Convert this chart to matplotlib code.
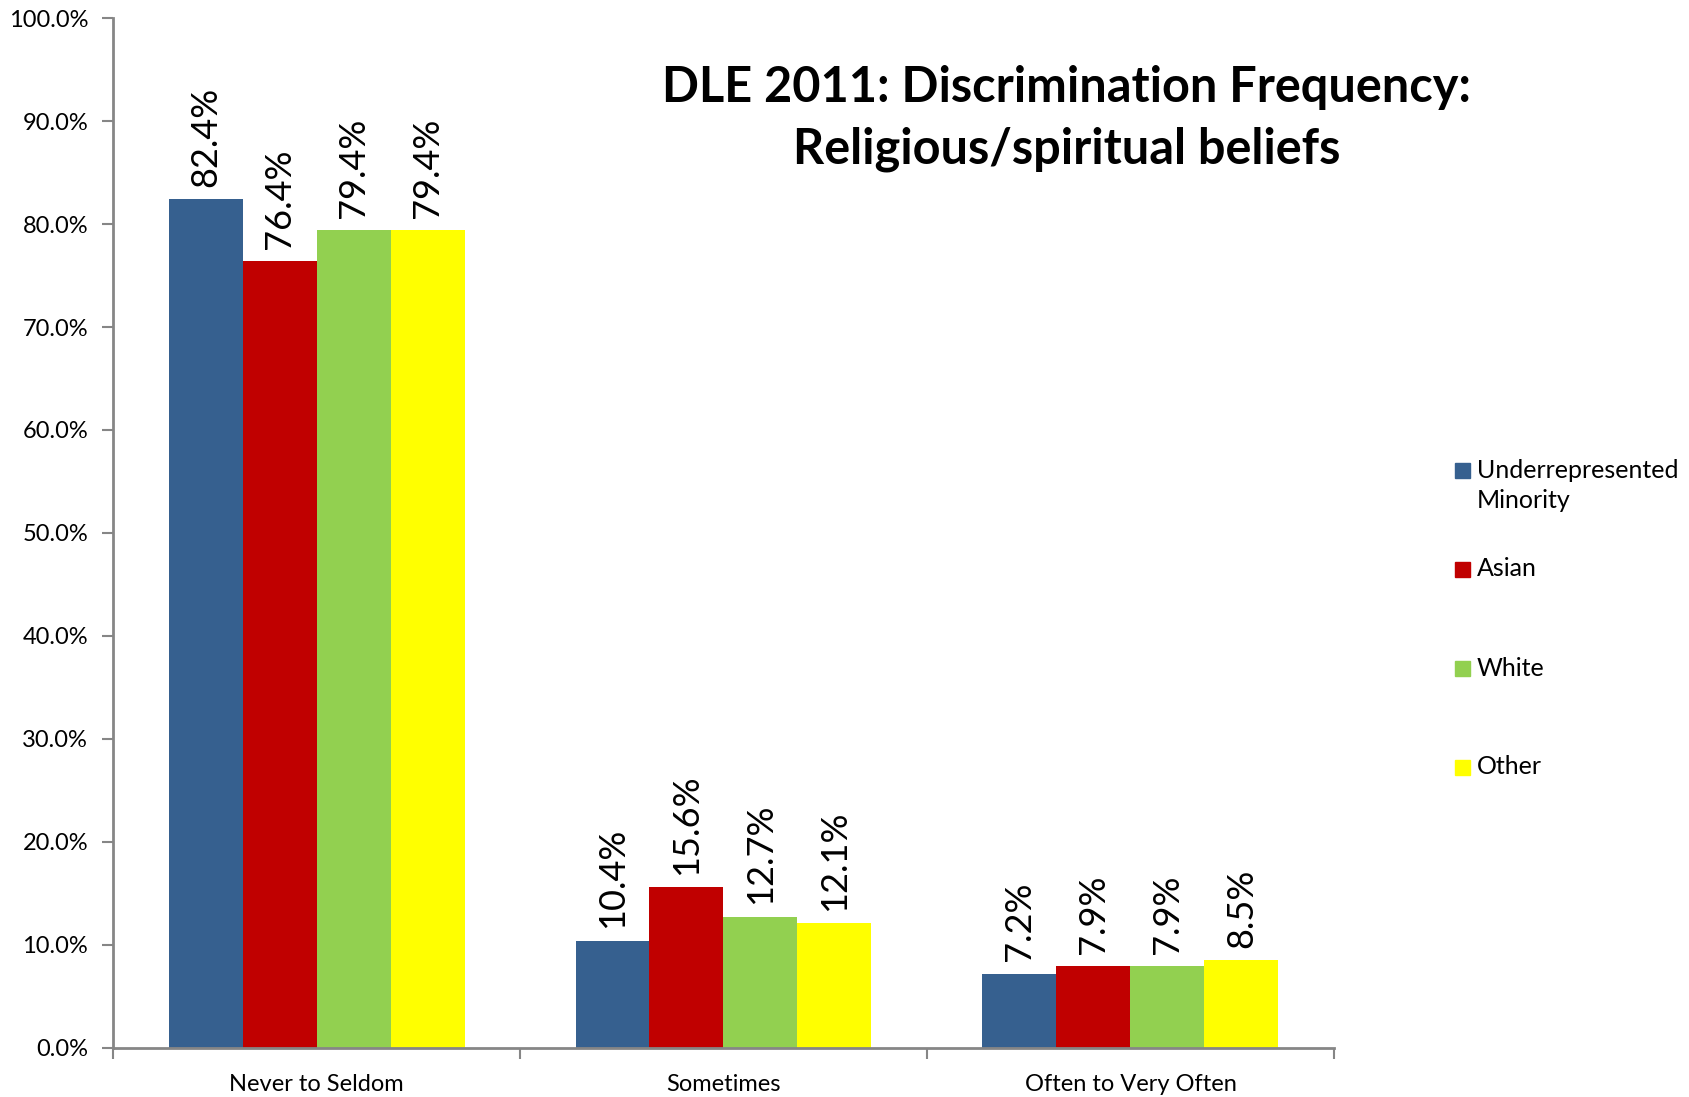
import numpy as np
import matplotlib
matplotlib.use('Agg')
import matplotlib.pyplot as plt
from matplotlib.patches import Rectangle
from matplotlib.ticker import FixedLocator, PercentFormatter

plt.rcParams['font.family'] = ['Lato', 'DejaVu Sans']

categories = ['Never to Seldom', 'Sometimes', 'Often to Very Often']
groups = ['Underrepresented\nMinority', 'Asian', 'White', 'Other']
colors = ['#36608F', '#C00000', '#92D050', '#FFFF00']

urm = [82.4, 10.4, 7.2]
asian = [76.4, 15.6, 7.9]
white = [79.4, 12.7, 7.9]
other = [79.4, 12.1, 8.5]
values = [urm, asian, white, other]

W, H = 1690, 1097
fig = plt.figure(figsize=(W / 100, H / 100), dpi=100)
ax = fig.add_axes([0.0669, 0.045, 0.7224, 0.9384])

x = np.arange(len(categories)) + 0.5
w = 1 / 5.5
for j, (name, vals) in enumerate(zip(groups, values)):
    pos = x + (j - 1.5) * w
    bars = ax.bar(pos, vals, width=w, color=colors[j], linewidth=0)
    for b, v in zip(bars, vals):
        ax.annotate(f'{v:.1f}%', (b.get_x() + w / 2, v), xytext=(0, 9),
                    textcoords='offset points', rotation=90, ha='center', va='bottom',
                    fontsize=26)

ax.set_xlim(0, 3)
ax.set_ylim(0, 100)
ax.yaxis.set_major_locator(FixedLocator(np.arange(0, 101, 10)))
ax.yaxis.set_major_formatter(PercentFormatter(decimals=1))
ax.xaxis.set_major_locator(FixedLocator([0, 1, 2, 3]))
ax.xaxis.set_minor_locator(FixedLocator(x))
ax.set_xticklabels([])
ax.set_xticklabels(categories, minor=True)
ax.tick_params(axis='x', which='minor', length=0, labelsize=17, pad=19)
ax.tick_params(axis='x', which='major', length=8, color='#868686', width=1.5)
ax.tick_params(axis='y', length=8, color='#868686', width=1.5, labelsize=17, pad=10)
for s in ['top', 'right']:
    ax.spines[s].set_visible(False)
for s in ['left', 'bottom']:
    ax.spines[s].set_color('#868686')
    ax.spines[s].set_linewidth(2)

fig.text(0.631, 0.892, 'DLE 2011: Discrimination Frequency:\nReligious/spiritual beliefs',
         ha='center', va='center', fontsize=35, fontweight='bold', linespacing=1.46)

# legend drawn by hand so the swatch sits on the first line of each label
sq = 15
for j, name in enumerate(groups):
    yc = 470 + j * 99
    fig.patches.append(Rectangle(((1455) / W, 1 - (yc + sq / 2) / H), sq / W, sq / H,
                                 transform=fig.transFigure, color=colors[j]))
    for k, line in enumerate(name.split('\n')):
        fig.text(1477 / W, 1 - (yc + k * 31) / H, line, ha='left', va='center',
                 fontsize=18)

fig.savefig('out.png', dpi=100)
